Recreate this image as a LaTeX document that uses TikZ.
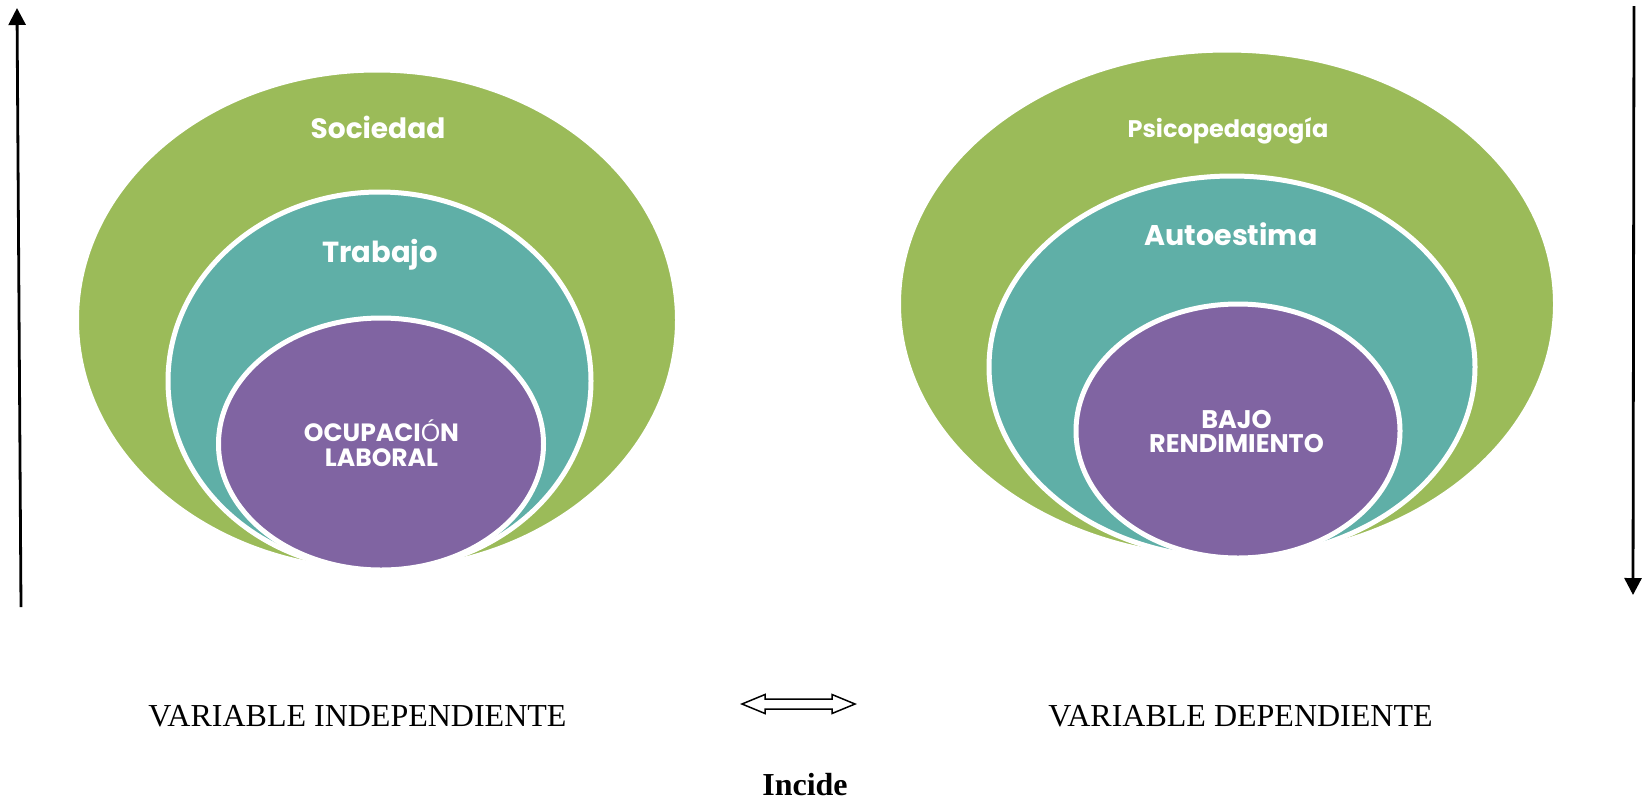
\documentclass[tikz,border=0pt]{standalone}
\usepackage{fontspec}
\setmainfont{Liberation Serif}
\newfontfamily\smartfont{Poppins}
\newfontfamily\thinfont{Liberation Sans}
\usetikzlibrary{arrows.meta,shapes.geometric}
\definecolor{sagreen}{HTML}{9BBB59}
\definecolor{sateal}{HTML}{5FAFA7}
\definecolor{sapurple}{HTML}{8064A2}
\begin{document}
\begin{tikzpicture}[x=1pt,y=-1pt,
  ring/.style={ellipse, draw=white, line width=5pt, inner sep=0pt},
  lbl/.style={text=white, font=\smartfont\bfseries, anchor=base, inner sep=0pt, align=center},
  vartext/.style={anchor=base, inner sep=0pt},
  axis/.style={line width=2.8pt, -{Triangle[width=17pt,length=17pt]}}
]
\useasboundingbox (0,0) rectangle (1646,801);
% left group
\node[ring, fill=sagreen,  minimum width=601pt, minimum height=500pt] (g1) at (377,320) {};
\node[ring, fill=sateal,   minimum width=423pt, minimum height=378pt] (t1) at (379.5,381) {};
\node[ring, fill=sapurple, minimum width=325pt, minimum height=252pt] (p1) at (381,444) {};
% right group
\node[ring, fill=sagreen,  minimum width=657pt, minimum height=508pt] (g2) at (1227,304) {};
\node[ring, fill=sateal,   minimum width=486pt, minimum height=382pt] (t2) at (1232,367) {};
\node[ring, fill=sapurple, minimum width=324pt, minimum height=254pt] (p2) at (1238,431) {};
% labels
\node[lbl] (sociedad) at (378,138) {\fontsize{28}{30}\selectfont Sociedad};
\node[lbl] (trabajo) at (380,262) {\fontsize{29}{31}\selectfont Trabajo};
\node[lbl] (ocup) at (381.5,441) {\fontsize{25}{27}\selectfont OCUPACI{\thinfont\mdseries Ó}N};
\node[lbl] (laboral) at (381.5,466) {\fontsize{25}{27}\selectfont LABORAL};
\node[lbl] (psico) at (1228,137) {\fontsize{24}{26}\selectfont Psicopedagogía};
\node[lbl] (auto) at (1231,245) {\fontsize{28.5}{30}\selectfont Autoestima};
\node[lbl] (bajo) at (1236.5,428) {\fontsize{25.5}{27}\selectfont BAJO};
\node[lbl] (rend) at (1236.5,452) {\fontsize{25.5}{27}\selectfont RENDIMIENTO};
% bottom texts
\node[vartext] (vi) at (357.5,726) {\fontsize{32}{36}\selectfont VARIABLE INDEPENDIENTE};
\node[vartext] (vd) at (1240.5,726) {\fontsize{32}{36}\selectfont VARIABLE DEPENDIENTE};
\node[vartext] (incide) at (805,795) {\fontsize{32}{36}\selectfont\bfseries Incide};
% double arrow
\coordinate (da) at (742,704);
\draw[line width=1.5pt, fill=white, line join=miter] (da) -- ++(23,-9.5) -- ++(0,4.5) -- ++(67,0) -- ++(0,-4.5)
  -- ++(23,9.5) -- ++(-23,9.5) -- ++(0,-4.5) -- ++(-67,0) -- ++(0,4.5) -- cycle;
% vertical axes
\coordinate (la0) at (21,607); \coordinate (la1) at (17,8);
\draw[axis] (la0) -- (la1);
\coordinate (ra0) at (1634,6); \coordinate (ra1) at (1633,595);
\draw[axis] (ra0) -- (ra1);
\end{tikzpicture}
\end{document}
